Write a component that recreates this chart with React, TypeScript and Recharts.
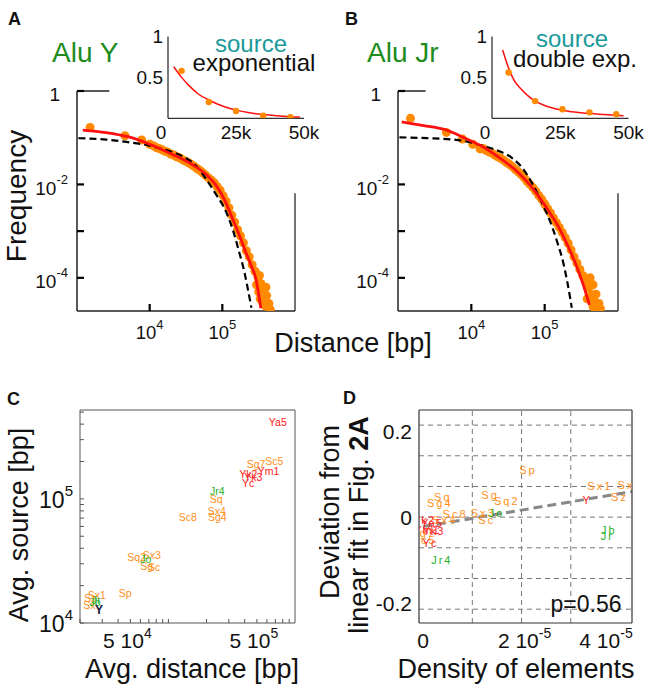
import React from 'react';
import { ComposedChart, Scatter, Line, XAxis, YAxis, ReferenceLine } from 'recharts';

const FONT = '"Liberation Sans", Arial, Helvetica, sans-serif';
const DOT_ORANGE = '#ff8a00';
const FIT_RED = '#ff1010';
const TXT_ORANGE = '#ff8f1a';
const TXT_RED = '#ff2020';
const TXT_GREEN = '#24b024';
const TXT_NAVY = '#14143c';
const TITLE_GREEN = '#1c8c1c';
const TEAL = '#1a9a9a';

// ---- A: Alu Y, distance distribution (bp -> frequency)
const aDotDist = [1514, 4571, 7762, 10000, 11220, 12300, 13490, 14790, 16220, 17780, 19500, 21380, 23440, 25700, 28180, 30900, 33880, 37150, 40740, 44670, 48980, 53700, 58880, 64570, 70790, 77620, 85110, 93330, 102300, 112200, 123000, 134900, 147900, 162200, 177800, 195000, 213800, 234400, 257000, 281800, 309000, 338800, 371500, 407400, 436500, 457100, 316200, 363100, 389000, 295100, 331100, 398100, 323600];
const aDotFreq = [0.166, 0.11, 0.0891, 0.0724, 0.0676, 0.0617, 0.0589, 0.055, 0.0513, 0.049, 0.0447, 0.0427, 0.0389, 0.0372, 0.0339, 0.0316, 0.0295, 0.0269, 0.0245, 0.0219, 0.02, 0.0178, 0.0158, 0.0138, 0.0123, 0.0107, 0.00891, 0.00741, 0.00575, 0.00437, 0.00316, 0.00219, 0.00155, 0.00107, 7.94e-4, 5.62e-4, 3.8e-4, 2.82e-4, 1.91e-4, 1.38e-4, 1.05e-4, 7.59e-5, 5.62e-5, 4.17e-5, 2.82e-5, 2.09e-5, 5.01e-5, 2.82e-5, 2.51e-5, 7.08e-5, 3.55e-5, 6.31e-5, 1.12e-4];
const aFitDist = [1202, 2512, 5012, 10000, 19950, 38900, 63100, 81280, 107200, 138000, 169800, 208900, 251200, 288400, 316200, 338800];
const aFitFreq = [0.146, 0.129, 0.105, 0.0724, 0.0447, 0.0263, 0.0151, 0.00977, 0.00468, 0.00186, 8.51e-4, 3.63e-4, 1.78e-4, 9.77e-5, 4.47e-5, 2.24e-5];
const aExpDist = [1047, 2512, 4786, 10000, 13800, 19950, 31620, 44670, 58880, 79430, 112200, 141300, 169800, 199500, 218800, 251200];
const aExpFreq = [0.0977, 0.0912, 0.0813, 0.0676, 0.0589, 0.0501, 0.0363, 0.024, 0.0135, 0.00661, 0.00263, 0.001, 3.63e-4, 1.41e-4, 7.08e-5, 2.29e-5];
// inset: source distances
const aSrcDist = [5000, 15000, 25000, 35000, 45000];
const aSrcFreq = [0.58, 0.2, 0.089, 0.032, 0.012];
const aSrcFitDist = [2100, 5000, 8000, 11000, 15000, 20000, 25000, 30000, 35000, 40000, 45000, 48500];
const aSrcFitFreq = [0.63, 0.5, 0.39, 0.3, 0.224, 0.15, 0.1, 0.067, 0.045, 0.03, 0.02, 0.016];

// ---- B: Alu Jr
const bDotDist = [1479, 4571, 7586, 10470, 13180, 14450, 15850, 17380, 19050, 20890, 22910, 25120, 27540, 30200, 33110, 36310, 39810, 43650, 47860, 52480, 57540, 63100, 69180, 75860, 83180, 91200, 100000, 109600, 120200, 131800, 144500, 158500, 173800, 190500, 208900, 229100, 251200, 275400, 302000, 331100, 363100, 398100, 436500, 478600, 524800, 416900, 457100, 501200, 549500, 380200, 575400, 457100];
const bDotFreq = [0.26, 0.13, 0.0933, 0.0724, 0.0575, 0.0589, 0.0537, 0.0501, 0.0468, 0.0427, 0.0389, 0.0363, 0.0331, 0.0295, 0.0269, 0.024, 0.0209, 0.0186, 0.0162, 0.0141, 0.0117, 0.01, 0.00851, 0.00708, 0.00575, 0.00479, 0.0038, 0.00302, 0.00245, 0.00191, 0.00151, 0.0012, 9.33e-4, 7.24e-4, 5.5e-4, 3.98e-4, 2.82e-4, 2.09e-4, 1.51e-4, 1.12e-4, 8.32e-5, 6.03e-5, 4.37e-5, 3.16e-5, 2.4e-5, 1.0e-4, 7.08e-5, 4.47e-5, 2.82e-5, 3.55e-5, 2.19e-5, 2.4e-5];
const bFitDist = [1122, 2239, 4571, 7943, 14130, 25120, 44670, 66070, 93330, 120200, 158500, 208900, 269200, 331100, 407400];
const bFitFreq = [0.219, 0.182, 0.146, 0.1, 0.0646, 0.0355, 0.0174, 0.00891, 0.00427, 0.00234, 0.00115, 4.68e-4, 1.86e-4, 7.59e-5, 2.63e-5];
const bExpDist = [1047, 2512, 6607, 15490, 25120, 36310, 52480, 69180, 95500, 128800, 151400, 177800, 204200, 234400];
const bExpFreq = [0.102, 0.0977, 0.0891, 0.0646, 0.0501, 0.0363, 0.02, 0.00977, 0.00355, 0.00115, 5.25e-4, 2.24e-4, 7.94e-5, 2.29e-5];
const bSrcDist = [6100, 15800, 25800, 35700, 45500];
const bSrcFreq = [0.56, 0.21, 0.11, 0.073, 0.049];
const bSrcFitDist = [3900, 6000, 8000, 10400, 13000, 15800, 19000, 22500, 28000, 34800, 41000, 48200];
const bSrcFitFreq = [0.835, 0.62, 0.47, 0.367, 0.28, 0.21, 0.16, 0.122, 0.085, 0.061, 0.045, 0.03];

// ---- C: avg distance vs avg source distance, by subfamily
const cOrange = [
  { id: 'Sg7', dist: 492000, src: 190000 },
  { id: 'Sc5', dist: 687000, src: 202000 },
  { id: 'Sq', dist: 238000, src: 100000 },
  { id: 'Sx4', dist: 241000, src: 80500 },
  { id: 'Sg4', dist: 243000, src: 72100 },
  { id: 'Sc8', dist: 142000, src: 71300 },
  { id: 'Sq2', dist: 56100, src: 34000 },
  { id: 'Sx3', dist: 73800, src: 35000 },
  { id: 'Sg', dist: 67300, src: 29000 },
  { id: 'Sc', dist: 76900, src: 28500 },
  { id: 'Sp', dist: 45400, src: 17400 },
  { id: 'Sx1', dist: 27200, src: 16700 },
  { id: 'Sz', dist: 24000, src: 16000 },
  { id: 'Sx', dist: 23700, src: 13900 },
];
const cRed = [
  { id: 'Ya5', dist: 731000, src: 419000 },
  { id: 'Ym1', dist: 617000, src: 169000 },
  { id: 'Yk2', dist: 427000, src: 159000 },
  { id: 'Yk3', dist: 469000, src: 150000 },
  { id: 'Yc', dist: 427000, src: 134000 },
];
const cGreen = [
  { id: 'Jr4', dist: 243000, src: 116000 },
  { id: 'Jo', dist: 66100, src: 32500 },
  { id: 'Jr', dist: 26800, src: 15400 },
  { id: 'Jb', dist: 26300, src: 14800 },
];
const cNavy = [{ id: 'Y', dist: 28200, src: 12700 }];
const cXTicks = [20000, 30000, 40000, 50000, 60000, 70000, 80000, 90000, 100000, 200000, 300000, 400000, 500000, 600000, 700000, 800000, 900000];
const cYTicks = [10000, 20000, 30000, 40000, 50000, 60000, 70000, 80000, 90000, 100000, 200000, 300000, 400000, 500000];

// ---- D: density vs deviation from linear fit
const dOrange = [
  { id: 'Sp', density: 2.13e-5, dev: 0.11 },
  { id: 'Sx1', density: 3.59e-5, dev: 0.0735 },
  { id: 'Sx', density: 4.12e-5, dev: 0.075 },
  { id: 'Sz', density: 3.99e-5, dev: 0.0465 },
  { id: 'Sg', density: 1.36e-5, dev: 0.052 },
  { id: 'Sq2', density: 1.7e-5, dev: 0.0386 },
  { id: 'Sx3', density: 1.22e-5, dev: 0.0093 },
  { id: 'Sc', density: 1.29e-5, dev: -0.0063 },
  { id: 'Sq', density: 0.4e-5, dev: 0.048 },
  { id: 'Sg4', density: 0.34e-5, dev: 0.0326 },
  { id: 'Sc8', density: 0.65e-5, dev: 0.0065 },
  { id: 'Sx4', density: 0.44e-5, dev: -0.0063 },
  { id: 'Sg7', density: 0.0, dev: -0.038 },
  { id: 'Sc5', density: 0.02e-5, dev: -0.053 },
];
const dRed = [
  { id: 'Y', density: 3.32e-5, dev: 0.04 },
  { id: 'Yk2', density: 0.02e-5, dev: -0.007 },
  { id: 'Ya5', density: 0.18e-5, dev: -0.014 },
  { id: 'Ym1', density: 0.08e-5, dev: -0.03 },
  { id: 'Yk3', density: 0.21e-5, dev: -0.033 },
  { id: 'Yc', density: 0.14e-5, dev: -0.061 },
];
const dGreen = [
  { id: 'Jb', density: 3.77e-5, dev: -0.0295 },
  { id: 'Jr', density: 3.74e-5, dev: -0.043 },
  { id: 'Jo', density: 1.49e-5, dev: 0.0093 },
  { id: 'Jr4', density: 0.38e-5, dev: -0.099 },
];
const dTrendDensity = [0, 4.24e-5];
const dTrendDev = [-0.022, 0.0595];
const dGridY = [-0.2143, -0.1429, -0.0714, 0, 0.0714, 0.1429, 0.2143];
const dGridX = [1e-5, 2e-5, 3e-5];

const zip = (xs: number[], ys: number[]) => xs.map((x, i) => ({ x, y: ys[i] }));

// superscript power label: "10^e" or "m 10^e"
const Pow = ({ x, y, mant, exp, size, sup, anchor, raise }: any) => (
  <text x={x} y={y} textAnchor={anchor} fontSize={size} fontFamily={FONT} fill="#111">
    {mant ? `${mant} 10` : '10'}
    <tspan dy={-raise} fontSize={sup}>{exp}</tspan>
  </text>
);

const MainYTick = (p: any) => {
  const v = p.payload.value;
  if (v === 1) {
    return <text x={p.x - 8} y={p.y + 10} textAnchor="end" fontSize={19} fontFamily={FONT} fill="#111">1</text>;
  }
  const e = Math.round(Math.log10(v));
  if (e === -3) return <g />;
  return <Pow x={p.x} y={p.y + 10.5} exp={String(e)} size={19} sup={13} anchor="end" raise={11} />;
};

const MainXTick = (p: any) => {
  const e = Math.round(Math.log10(p.payload.value));
  return <Pow x={p.x} y={p.y + 34.6} exp={String(e)} size={18.5} sup={13} anchor="middle" raise={10} />;
};

const InsetXTick = (p: any) => {
  const v = p.payload.value;
  return (
    <text x={p.x + (v === 0 ? -7 : 0)} y={p.y + 13.7} textAnchor="middle" fontSize={19} fontFamily={FONT} fill="#111">
      {v === 0 ? '0' : `${v / 1000}k`}
    </text>
  );
};

const InsetYTick = (p: any) => (
  <text x={p.x} y={p.y + 6.8} textAnchor="end" fontSize={19} fontFamily={FONT} fill="#111">{String(p.payload.value)}</text>
);

const dotShape = (r: number) => (p: any) => <circle cx={p.cx} cy={p.cy} r={r} fill={DOT_ORANGE} />;
const noShape = () => <g />;

const labelShape = (color: string, size: number, spacing = 0, weight = 'normal') => (p: any) => (
  <text x={p.cx} y={p.cy} textAnchor="middle" dominantBaseline="central" fontSize={size} fill={color}
    letterSpacing={spacing} fontWeight={weight} fontFamily={FONT}>
    {(p.payload && p.payload.id) ?? p.id}
  </text>
);

const FMIN = 1.95e-5;

// curves are drawn as scatter joints so they stack above the dots in child order
function DistPanel({ left, width, yw, dots, fit, exp, topEnd }: any) {
  return (
    <div style={{ position: 'absolute', left, top: 0 }}>
      <ComposedChart width={width} height={351} margin={{ top: 91, right: 5, bottom: 0, left: 0 }}>
        <XAxis type="number" dataKey="x" scale="log" domain={[1e3, 1e6]} allowDataOverflow ticks={[1e4, 1e5]}
          interval={0} height={40} tickSize={-7} tickMargin={0}
          axisLine={{ stroke: '#222', strokeWidth: 1.5 }} tickLine={{ stroke: '#000', strokeWidth: 2.2 }} tick={MainXTick} />
        <YAxis type="number" dataKey="y" scale="log" domain={[FMIN, 1]} allowDataOverflow ticks={[1e-4, 1e-3, 1e-2, 1]}
          interval={0} width={yw} tickSize={-7} tickMargin={16}
          axisLine={{ stroke: '#222', strokeWidth: 1.5 }} tickLine={{ stroke: '#000', strokeWidth: 2.2 }} tick={MainYTick} />
        <ReferenceLine segment={[{ x: 1e3, y: 1 }, { x: topEnd, y: 1 }]} stroke="#222" strokeWidth={1.5} ifOverflow="visible" />
        <ReferenceLine segment={[{ x: 1e6, y: FMIN }, { x: 1e6, y: 0.00645 }]} stroke="#444" strokeWidth={1.5} ifOverflow="visible" />
        <Scatter data={dots} shape={dotShape(4.5)} isAnimationActive={false} />
        <Scatter data={exp} shape={noShape} line={{ stroke: '#000', strokeWidth: 2.2, strokeDasharray: '7 4' }}
          lineJointType="monotoneX" fill="none" isAnimationActive={false} />
        <Scatter data={fit} shape={noShape} line={{ stroke: FIT_RED, strokeWidth: 2.8 }}
          lineJointType="monotoneX" fill="none" isAnimationActive={false} />
      </ComposedChart>
    </div>
  );
}

function SourceInset({ left, width, dots, fit }: any) {
  return (
    <div style={{ position: 'absolute', left, top: 0 }}>
      <ComposedChart width={width} height={148.3} margin={{ top: 36.5, right: 22, bottom: 0, left: 0 }}>
        <XAxis type="number" dataKey="x" domain={[0, 50000]} allowDataOverflow ticks={[0, 25000, 50000]} interval={0}
          height={30} tickLine={false} tickSize={6} tickMargin={1} axisLine={{ stroke: '#333', strokeWidth: 1.3 }} tick={InsetXTick} />
        <YAxis type="number" dataKey="y" domain={[0, 1]} allowDataOverflow ticks={[0.5, 1]} interval={0}
          width={50} tickLine={false} tickSize={0} tickMargin={5} axisLine={{ stroke: '#333', strokeWidth: 1.3 }} tick={InsetYTick} />
        <Scatter data={fit} shape={noShape} line={{ stroke: FIT_RED, strokeWidth: 1.5 }}
          lineJointType="monotoneX" fill="none" isAnimationActive={false} />
        <Scatter data={dots} shape={dotShape(3.2)} isAnimationActive={false} />
      </ComposedChart>
    </div>
  );
}

const CXTick = (p: any) => {
  const v = p.payload.value;
  if (v !== 50000 && v !== 500000) return <g />;
  return <Pow x={p.x - 3} y={p.y + 29.3} mant="5" exp={String(Math.round(Math.log10(v / 5)))} size={21} sup={14} anchor="middle" raise={10} />;
};

const CYTick = (p: any) => {
  const v = p.payload.value;
  if (v !== 10000 && v !== 100000) return <g />;
  return <Pow x={p.x} y={p.y + 9.3} exp={String(Math.round(Math.log10(v)))} size={23} sup={15} anchor="end" raise={12} />;
};

const cPts = (arr: any[]) => arr.map((d) => ({ x: d.dist, y: d.src, id: d.id }));
const dPts = (arr: any[]) => arr.map((d) => ({ x: d.density, y: d.dev, id: d.id }));

function PanelC() {
  const frame = { stroke: '#555', strokeWidth: 1 };
  return (
    <div style={{ position: 'absolute', left: 0, top: 380 }}>
      <ComposedChart width={306} height={303} margin={{ top: 29, right: 10, bottom: 0, left: 0 }}>
        <XAxis xAxisId="b" type="number" dataKey="x" scale="log" domain={[2e4, 1e6]} allowDataOverflow ticks={cXTicks}
          interval={0} height={60} tickSize={-4} tickMargin={0} axisLine={frame} tickLine={frame} tick={CXTick} />
        <XAxis xAxisId="t" orientation="top" type="number" dataKey="x" scale="log" domain={[2e4, 1e6]} allowDataOverflow
          ticks={cXTicks} interval={0} height={1} tickSize={-4} axisLine={frame} tickLine={frame} tick={false} />
        <YAxis yAxisId="l" type="number" dataKey="y" scale="log" domain={[1e4, 5.2e5]} allowDataOverflow ticks={cYTicks}
          interval={0} width={80} tickSize={-4} tickMargin={11} axisLine={frame} tickLine={frame} tick={CYTick} />
        <YAxis yAxisId="r" orientation="right" type="number" dataKey="y" scale="log" domain={[1e4, 5.2e5]} allowDataOverflow
          ticks={cYTicks} interval={0} width={1} tickSize={-4} axisLine={frame} tickLine={frame} tick={false} />
        <Scatter xAxisId="b" yAxisId="l" data={cPts(cOrange)} shape={labelShape(TXT_ORANGE, 10.5)} isAnimationActive={false} />
        <Scatter xAxisId="b" yAxisId="l" data={cPts(cGreen)} shape={labelShape(TXT_GREEN, 10.5)} isAnimationActive={false} />
        <Scatter xAxisId="b" yAxisId="l" data={cPts(cRed)} shape={labelShape(TXT_RED, 10.5)} isAnimationActive={false} />
        <Scatter xAxisId="b" yAxisId="l" data={cPts(cNavy)} shape={labelShape(TXT_NAVY, 12, 0, 'bold')} isAnimationActive={false} />
      </ComposedChart>
    </div>
  );
}

const DXTick = (p: any) => {
  const v = p.payload.value;
  if (v === 0) {
    return <text x={p.x} y={p.y + 19} textAnchor="middle" fontSize={21} fontFamily={FONT} fill="#111">0</text>;
  }
  const m = Math.round(v * 1e5);
  return <Pow x={p.x + (m === 4 ? -14 : 3)} y={p.y + 19} mant={String(m)} exp="-5" size={21} sup={14} anchor="middle" raise={10} />;
};

const DYTick = (p: any) => (
  <text x={p.x} y={p.y + 7.5} textAnchor="end" fontSize={21} fontFamily={FONT} fill="#111">{String(p.payload.value)}</text>
);

function PanelD() {
  const frame = { stroke: '#333', strokeWidth: 1.2 };
  const xd = [-8.3e-7, 4.243e-5];
  const yd = [-0.2465, 0.2495];
  return (
    <div style={{ position: 'absolute', left: 340, top: 380 }}>
      <ComposedChart width={303} height={303} margin={{ top: 29, right: 10, bottom: 0, left: 0 }}>
        <XAxis xAxisId="b" type="number" dataKey="x" domain={xd} allowDataOverflow ticks={[0, 2e-5, 4e-5]} interval={0}
          height={60} tickLine={false} tickSize={6} tickMargin={0} axisLine={frame} tick={DXTick} />
        <XAxis xAxisId="t" orientation="top" type="number" dataKey="x" domain={xd} allowDataOverflow ticks={[0]} interval={0}
          height={1} tickLine={false} tick={false} axisLine={frame} />
        <YAxis yAxisId="l" type="number" dataKey="y" domain={yd} allowDataOverflow ticks={[-0.2, 0, 0.2]} interval={0}
          width={79} tickLine={false} tickSize={0} tickMargin={7} axisLine={frame} tick={DYTick} />
        <YAxis yAxisId="r" orientation="right" type="number" dataKey="y" domain={yd} allowDataOverflow ticks={[0]} interval={0}
          width={1} tickLine={false} tick={false} axisLine={frame} />
        {dGridY.map((v) => (
          <ReferenceLine key={`gy${v}`} xAxisId="b" yAxisId="l" y={v} stroke="#777" strokeWidth={1} strokeDasharray="5 4" />
        ))}
        {dGridX.map((v) => (
          <ReferenceLine key={`gx${v}`} xAxisId="b" yAxisId="l" x={v} stroke="#777" strokeWidth={1} strokeDasharray="5 4" />
        ))}
        <Scatter xAxisId="b" yAxisId="l" data={dPts(dOrange)} shape={labelShape(TXT_ORANGE, 11, 2)} isAnimationActive={false} />
        <Scatter xAxisId="b" yAxisId="l" data={dPts(dGreen)} shape={labelShape(TXT_GREEN, 11, 2)} isAnimationActive={false} />
        <Scatter xAxisId="b" yAxisId="l" data={dPts(dRed)} shape={labelShape(TXT_RED, 11, 1)} isAnimationActive={false} />
        <Line xAxisId="b" yAxisId="l" data={zip(dTrendDensity, dTrendDev)} dataKey="y" type="linear" stroke="#888"
          strokeWidth={3} strokeDasharray="9 5" dot={false} isAnimationActive={false} />
      </ComposedChart>
    </div>
  );
}

function Overlay() {
  const t = { fontFamily: FONT, fill: '#111' };
  return (
    <svg width={650} height={690} style={{ position: 'absolute', left: 0, top: 0, pointerEvents: 'none' }}>
      <text x={8} y={25} fontSize={18} fontWeight="bold" {...t}>A</text>
      <text x={345} y={25} fontSize={18} fontWeight="bold" {...t}>B</text>
      <text x={7} y={405} fontSize={18} fontWeight="bold" {...t}>C</text>
      <text x={343} y={404} fontSize={18} fontWeight="bold" {...t}>D</text>

      <text x={52} y={62} fontSize={28} fontFamily={FONT} fill={TITLE_GREEN}>Alu Y</text>
      <text x={367} y={62} fontSize={28} fontFamily={FONT} fill={TITLE_GREEN}>Alu Jr</text>
      <text x={251} y={52} fontSize={24} fontFamily={FONT} fill={TEAL} textAnchor="middle">source</text>
      <text x={254} y={71} fontSize={24} textAnchor="middle" {...t}>exponential</text>
      <text x={572} y={47} fontSize={24} fontFamily={FONT} fill={TEAL} textAnchor="middle">source</text>
      <text x={575} y={66.5} fontSize={24} textAnchor="middle" {...t}>double exp.</text>

      <text transform="translate(26,196) rotate(-90)" fontSize={28} textAnchor="middle" {...t}>Frequency</text>
      <text x={353} y={352} fontSize={27} textAnchor="middle" {...t}>Distance [bp]</text>

      <text transform="translate(28,525) rotate(-90)" fontSize={27} textAnchor="middle" {...t}>Avg. source [bp]</text>
      <text x={192} y={678} fontSize={27} textAnchor="middle" {...t}>Avg. distance [bp]</text>

      <text transform="translate(338.5,512) rotate(-90)" fontSize={27} textAnchor="middle" {...t}>Deviation from</text>
      <text transform="translate(368,525) rotate(-90)" fontSize={27} textAnchor="middle" {...t}>
        linear fit in Fig. <tspan fontWeight="bold">2A</tspan>
      </text>
      <text x={516} y={678} fontSize={27} textAnchor="middle" {...t}>Density of elements</text>
      <text x={586} y={612} fontSize={23} textAnchor="middle" {...t}>p=0.56</text>
    </svg>
  );
}

export default function App() {
  return (
    <div style={{ position: 'absolute', left: 0, top: 0, width: 650, height: 690, background: '#fff', overflow: 'hidden', fontFamily: FONT }}>
      <DistPanel left={0} width={300} yw={77} dots={zip(aDotDist, aDotFreq)} fit={zip(aFitDist, aFitFreq)}
        exp={zip(aExpDist, aExpFreq)} topEnd={2786} />
      <SourceInset left={118} width={208} dots={zip(aSrcDist, aSrcFreq)} fit={zip(aSrcFitDist, aSrcFitFreq)} />
      <DistPanel left={320} width={303} yw={78} dots={zip(bDotDist, bDotFreq)} fit={zip(bFitDist, bFitFreq)}
        exp={zip(bExpDist, bExpFreq)} topEnd={2382} />
      <SourceInset left={441.5} width={208.5} dots={zip(bSrcDist, bSrcFreq)} fit={zip(bSrcFitDist, bSrcFitFreq)} />
      <PanelC />
      <PanelD />
      <Overlay />
    </div>
  );
}
